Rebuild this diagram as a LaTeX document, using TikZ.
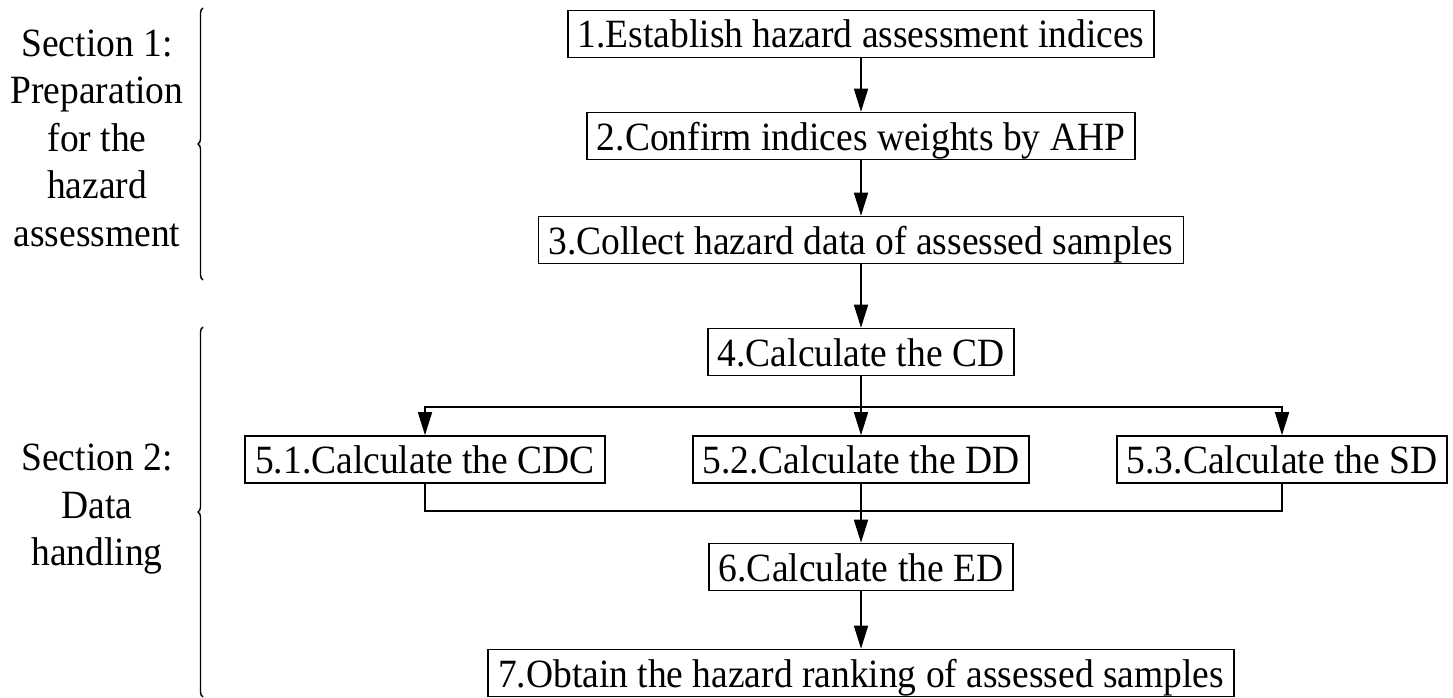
\documentclass[tikz,border=0pt]{standalone}
\usepackage{fontspec}
\usepackage{graphicx}
\setmainfont{Liberation Serif}
\usetikzlibrary{arrows.meta,decorations.pathreplacing}
\newcommand\tallt[1]{\scalebox{1}[1.07]{#1}}
\begin{document}
\begin{tikzpicture}[x=1pt,y=-1pt,
  stepbox/.style={draw,line width=1.6pt,inner xsep=10pt,inner ysep=0pt,minimum height=47pt,
    text height=36pt,text depth=8pt,font=\fontsize{37.5}{47.5}\selectfont},
  conn/.style={line width=1.6pt},
  arr/.style={conn,-{Triangle[length=23pt,width=14pt]}},
  sect/.style={align=center,font=\fontsize{37.5}{44.4}\selectfont,inner sep=0pt,yscale=1.07,transform shape},
  bracestyle/.style={line width=1.4pt,decorate,decoration={brace,amplitude=5pt}}]
\useasboundingbox (0,0) rectangle (1453,698);
\node[stepbox] (b1) at (861,34) {\tallt{1.Establish hazard assessment indices}};
\node[stepbox] (b2) at (861,136) {\tallt{2.Confirm indices weights by AHP}};
\node[stepbox] (b3) at (861,240) {\tallt{3.Collect hazard data of assessed samples}};
\node[stepbox] (b4) at (861,352) {\tallt{4.Calculate the CD}};
\node[stepbox] (b51) at (425,459.5) {\tallt{5.1.Calculate the CDC}};
\node[stepbox] (b52) at (861,459.5) {\tallt{5.2.Calculate the DD}};
\node[stepbox] (b53) at (1282,459.5) {\tallt{5.3.Calculate the SD}};
\node[stepbox] (b6) at (861,567) {\tallt{6.Calculate the ED}};
\node[stepbox] (b7) at (861,673) {\tallt{7.Obtain the hazard ranking of assessed samples}};
\coordinate (br) at (861,407);
\coordinate (jn) at (861,511);
\draw[arr] (b1) -- (b2);
\draw[arr] (b2) -- (b3);
\draw[arr] (b3) -- (b4);
\draw[conn] (b4.south) -- (br);
\draw[arr] (br) -- (b52);
\draw[arr] (br) -| (b51.north);
\draw[arr] (br) -| (b53.north);
\draw[conn] (b51.south) |- (jn);
\draw[conn] (b53.south) |- (jn);
\draw[conn] (b52.south) -- (jn);
\draw[arr] (jn) -- (b6);
\draw[arr] (b6) -- (b7);
\node[sect] (s1) at (97,138) {Section 1:\\Preparation\\for the\\hazard\\assessment};
\node[sect] (s2) at (97,509.5) {Section 2:\\Data\\handling};
\coordinate (s1t) at (203,8);
\coordinate (s1b) at (203,280);
\coordinate (s2t) at (203,327);
\coordinate (s2b) at (203,697);
\draw[bracestyle] (s1b) -- (s1t);
\draw[bracestyle] (s2b) -- (s2t);
\end{tikzpicture}
\end{document}
